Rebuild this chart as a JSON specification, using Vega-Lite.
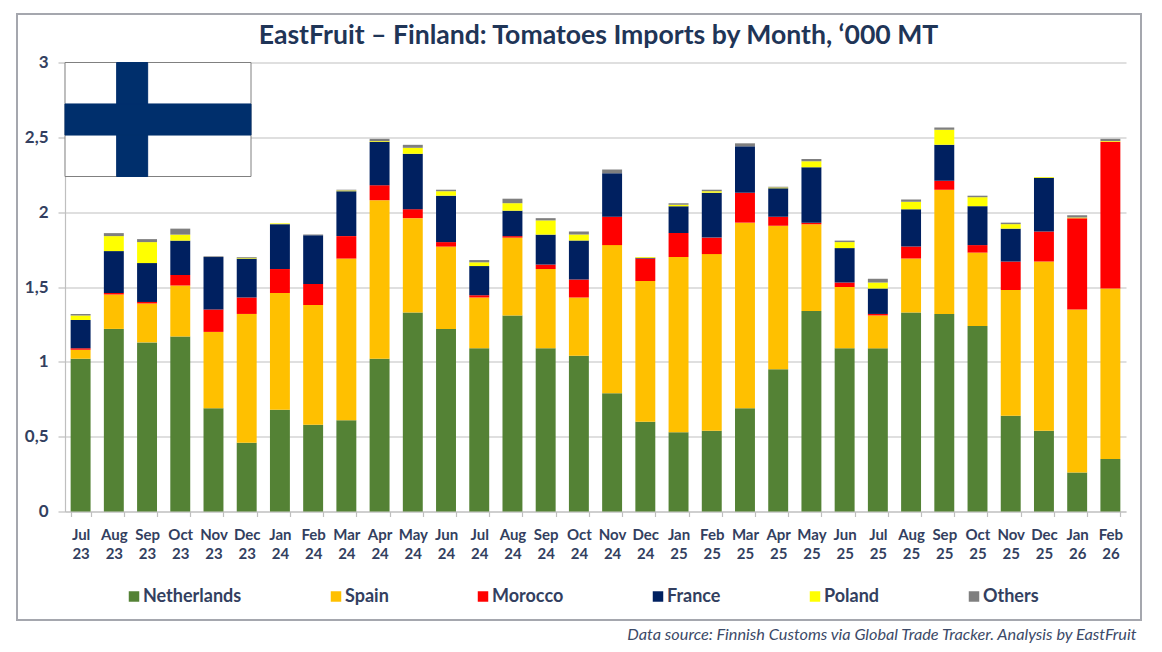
{
"$schema":"https://vega.github.io/schema/vega-lite/v6.json",
"autosize":{"type":"none"},
"width":1061,"height":449,
"padding":{"left":65,"top":62.5,"right":36,"bottom":140.5},
"background":"#ffffff",
"title":{"text":"EastFruit – Finland: Tomatoes Imports by Month, ‘000 MT","font":"Lato","fontSize":26.6,"fontWeight":"bold","color":"#1F3557","anchor":"middle","dx":3,"offset":-37},
"datasets":{
"imports":[
{"month":"Jul 23","Netherlands":1.02,"Spain":0.06,"Morocco":0.01,"France":0.19,"Poland":0.03,"Others":0.01},
{"month":"Aug 23","Netherlands":1.22,"Spain":0.23,"Morocco":0.01,"France":0.28,"Poland":0.10,"Others":0.02},
{"month":"Sep 23","Netherlands":1.13,"Spain":0.26,"Morocco":0.01,"France":0.26,"Poland":0.14,"Others":0.02},
{"month":"Oct 23","Netherlands":1.17,"Spain":0.34,"Morocco":0.07,"France":0.23,"Poland":0.04,"Others":0.04},
{"month":"Nov 23","Netherlands":0.69,"Spain":0.51,"Morocco":0.15,"France":0.35,"Poland":0,"Others":0.005},
{"month":"Dec 23","Netherlands":0.46,"Spain":0.86,"Morocco":0.11,"France":0.26,"Poland":0.005,"Others":0.005},
{"month":"Jan 24","Netherlands":0.68,"Spain":0.78,"Morocco":0.16,"France":0.30,"Poland":0.005,"Others":0},
{"month":"Feb 24","Netherlands":0.58,"Spain":0.80,"Morocco":0.14,"France":0.325,"Poland":0,"Others":0.005},
{"month":"Mar 24","Netherlands":0.61,"Spain":1.08,"Morocco":0.15,"France":0.30,"Poland":0.005,"Others":0.005},
{"month":"Apr 24","Netherlands":1.02,"Spain":1.06,"Morocco":0.10,"France":0.29,"Poland":0.005,"Others":0.015},
{"month":"May 24","Netherlands":1.33,"Spain":0.63,"Morocco":0.06,"France":0.37,"Poland":0.04,"Others":0.02},
{"month":"Jun 24","Netherlands":1.22,"Spain":0.55,"Morocco":0.03,"France":0.31,"Poland":0.03,"Others":0.01},
{"month":"Jul 24","Netherlands":1.09,"Spain":0.34,"Morocco":0.015,"France":0.195,"Poland":0.025,"Others":0.015},
{"month":"Aug 24","Netherlands":1.31,"Spain":0.52,"Morocco":0.01,"France":0.17,"Poland":0.05,"Others":0.03},
{"month":"Sep 24","Netherlands":1.09,"Spain":0.53,"Morocco":0.03,"France":0.20,"Poland":0.095,"Others":0.015},
{"month":"Oct 24","Netherlands":1.04,"Spain":0.39,"Morocco":0.12,"France":0.26,"Poland":0.04,"Others":0.02},
{"month":"Nov 24","Netherlands":0.79,"Spain":0.99,"Morocco":0.19,"France":0.29,"Poland":0,"Others":0.025},
{"month":"Dec 24","Netherlands":0.60,"Spain":0.94,"Morocco":0.15,"France":0.005,"Poland":0.005,"Others":0},
{"month":"Jan 25","Netherlands":0.53,"Spain":1.17,"Morocco":0.16,"France":0.18,"Poland":0.01,"Others":0.01},
{"month":"Feb 25","Netherlands":0.54,"Spain":1.18,"Morocco":0.11,"France":0.30,"Poland":0.01,"Others":0.01},
{"month":"Mar 25","Netherlands":0.69,"Spain":1.24,"Morocco":0.20,"France":0.31,"Poland":0,"Others":0.02},
{"month":"Apr 25","Netherlands":0.95,"Spain":0.96,"Morocco":0.06,"France":0.19,"Poland":0.005,"Others":0.005},
{"month":"May 25","Netherlands":1.34,"Spain":0.58,"Morocco":0.01,"France":0.37,"Poland":0.04,"Others":0.015},
{"month":"Jun 25","Netherlands":1.09,"Spain":0.41,"Morocco":0.03,"France":0.23,"Poland":0.04,"Others":0.01},
{"month":"Jul 25","Netherlands":1.09,"Spain":0.22,"Morocco":0.01,"France":0.17,"Poland":0.04,"Others":0.025},
{"month":"Aug 25","Netherlands":1.33,"Spain":0.36,"Morocco":0.08,"France":0.25,"Poland":0.05,"Others":0.015},
{"month":"Sep 25","Netherlands":1.32,"Spain":0.83,"Morocco":0.06,"France":0.24,"Poland":0.10,"Others":0.015},
{"month":"Oct 25","Netherlands":1.24,"Spain":0.49,"Morocco":0.05,"France":0.26,"Poland":0.06,"Others":0.01},
{"month":"Nov 25","Netherlands":0.64,"Spain":0.84,"Morocco":0.19,"France":0.22,"Poland":0.03,"Others":0.01},
{"month":"Dec 25","Netherlands":0.54,"Spain":1.13,"Morocco":0.20,"France":0.36,"Poland":0.005,"Others":0},
{"month":"Jan 26","Netherlands":0.26,"Spain":1.09,"Morocco":0.61,"France":0,"Poland":0.005,"Others":0.015},
{"month":"Feb 26","Netherlands":0.35,"Spain":1.14,"Morocco":0.98,"France":0,"Poland":0.005,"Others":0.015}
],
"countries":[
{"country":"Netherlands","rank":1},{"country":"Spain","rank":2},{"country":"Morocco","rank":3},{"country":"France","rank":4},{"country":"Poland","rank":5},{"country":"Others","rank":6}
],
"flag":[
{"part":"field","a":0,"b":18,"c":0,"d":11},
{"part":"vertical bar","a":5,"b":8,"c":0,"d":11},
{"part":"horizontal bar","a":0,"b":18,"c":4,"d":7}
]
},
"layer":[
{
"data":{"values":[{"l":0,"r":1,"t":0,"b":1}]},
"mark":{"type":"rect","fill":null,"stroke":"#A5A7AE","strokeWidth":2},
"encoding":{
"x":{"field":"l","type":"quantitative","axis":null,"scale":{"domain":[0,1],"range":[-48,1076],"nice":false,"zero":false}},
"x2":{"field":"r"},
"y":{"field":"t","type":"quantitative","axis":null,"scale":{"domain":[0,1],"range":[-48.5,557.5],"nice":false,"zero":false}},
"y2":{"field":"b"}
}
},
{
"data":{"name":"imports"},
"transform":[
{"fold":["Netherlands","Spain","Morocco","France","Poland","Others"],"as":["country","value"]},
{"lookup":"country","from":{"data":{"name":"countries"},"key":"country","fields":["rank"]}}
],
"mark":{"type":"bar"},
"encoding":{
"x":{"field":"month","type":"nominal","sort":null,
"scale":{"paddingInner":0.4,"paddingOuter":0.17},
"axis":{"title":"Data source: Finnish Customs via Global Trade Tracker. Analysis by EastFruit","titleFont":"Lato","titleFontSize":16.3,"titleFontStyle":"italic","titleFontWeight":"normal","titleColor":"#3C4A68","titleX":1071,"titleY":115,"titleAlign":"right","titleAnchor":"end",
"labelAngle":0,"labelFont":"Lato","labelFontSize":15,"labelFontWeight":"bold","labelColor":"#333F60","labelLineHeight":18.5,"labelPadding":11,"labelExpr":"split(datum.label,' ')","labelOverlap":false,"tickBand":"extent","tickSize":5,"tickColor":"#BFBFBF","domainColor":"#BFBFBF","grid":false}},
"y":{"field":"value","type":"quantitative","stack":"zero","scale":{"domain":[0,3],"nice":false},
"axis":{"title":null,"values":[0,0.5,1,1.5,2,2.5,3],"labelExpr":"replace(format(datum.value,'~g'),'.',',')","labelFont":"Lato","labelFontSize":17,"labelFontWeight":"bold","labelColor":"#333F60","labelPadding":10,"tickSize":7,"tickColor":"#BFBFBF","domainColor":"#BFBFBF","grid":true,"gridColor":"#BFBFBF","gridWidth":1.2}},
"order":{"field":"rank","type":"quantitative"},
"color":{"field":"country","type":"nominal",
"scale":{"domain":["Netherlands","Spain","Morocco","France","Poland","Others"],"range":["#548235","#FFC000","#FF0000","#002060","#FFFF00","#7F7F7F"]},
"legend":{"title":null,"orient":"none","legendX":60,"legendY":525,"direction":"horizontal","columns":6,"columnPadding":85,"gridAlign":"each","symbolType":"square","symbolSize":110,"symbolStrokeWidth":0,"labelFont":"Lato","labelFontSize":18,"labelFontWeight":"bold","labelColor":"#333F60","labelOffset":0}
}
}
},
{
"data":{"name":"flag"},
"mark":{"type":"rect"},
"encoding":{
"x":{"field":"a","type":"quantitative","axis":null,"scale":{"domain":[0,18],"range":[0,186],"nice":false,"zero":false}},
"x2":{"field":"b"},
"y":{"field":"c","type":"quantitative","axis":null,"scale":{"domain":[0,11],"range":[0,114],"nice":false,"zero":false}},
"y2":{"field":"d"},
"color":{"field":"part","type":"nominal","legend":null,"scale":{"domain":["field","vertical bar","horizontal bar"],"range":["#ffffff","#002F6C","#002F6C"]}},
"stroke":{"field":"part","type":"nominal","legend":null,"scale":{"domain":["field","vertical bar","horizontal bar"],"range":["#808080","#002F6C","#002F6C"]}}
}
}
],
"resolve":{"scale":{"x":"independent","y":"independent","color":"independent","stroke":"independent"},"axis":{"x":"independent","y":"independent"},"legend":{"color":"independent"}},
"config":{"view":{"stroke":null},"axis":{"domainWidth":1.2,"tickWidth":1.2}}
}
